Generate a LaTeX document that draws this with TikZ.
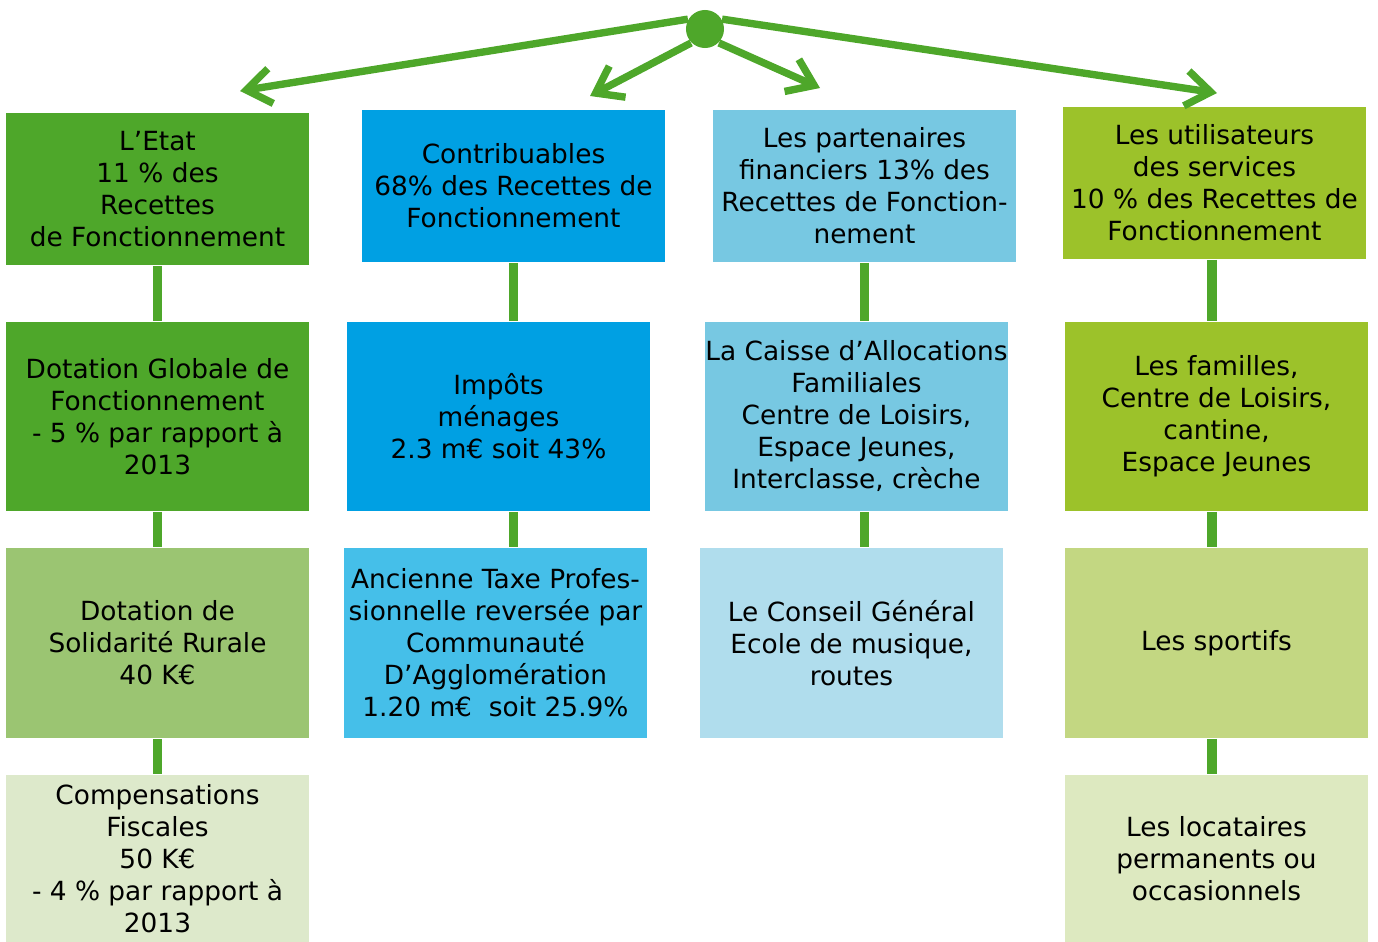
\documentclass[tikz,border=0pt]{standalone}
\usepackage{fontspec}
\setmainfont{DejaVu Sans}
\usetikzlibrary{arrows.meta}
\definecolor{gA}{RGB}{78,167,42}
\definecolor{gB}{RGB}{155,197,114}
\definecolor{gC}{RGB}{221,233,203}
\definecolor{bA}{RGB}{0,160,227}
\definecolor{bB}{RGB}{69,191,233}
\definecolor{lA}{RGB}{119,200,226}
\definecolor{lB}{RGB}{176,221,237}
\definecolor{oA}{RGB}{156,194,42}
\definecolor{oB}{RGB}{195,215,130}
\definecolor{oC}{RGB}{221,233,192}
\begin{document}
\begin{tikzpicture}[x=0.01cm,y=-0.01cm,
  box/.style={rectangle, inner sep=0pt, align=center, text=black, minimum width=3.03cm,
    font=\fontsize{7.5pt}{9.1pt}\selectfont},
  hA/.style={minimum height=1.52cm},
  hB/.style={minimum height=1.89cm},
  hC/.style={minimum height=1.90cm},
  hD/.style={minimum height=1.67cm},
  link/.style={draw=gA, line width=2.6pt},
  arr/.style={draw=gA, line width=2.1pt, -{Straight Barb[length=7pt,width=10pt]}}]
\useasboundingbox (0,0) rectangle (1378,942);
% column 1
\node[box,hA,fill=gA] (e1) at (157.5,189) {L’Etat\\11 \% des\\Recettes\\de Fonctionnement};
\node[box,hB,fill=gA] (e2) at (157.5,416.5) {Dotation Globale de\\Fonctionnement\\- 5 \% par rapport à\\2013};
\node[box,hC,fill=gB] (e3) at (157.5,643) {Dotation de\\Solidarité Rurale\\40 K€};
\node[box,hD,fill=gC] (e4) at (157.5,858.5) {Compensations\\Fiscales\\50 K€\\- 4 \% par rapport à\\2013};
% column 2
\node[box,hA,fill=bA] (c1) at (513.5,186) {Contribuables\\68\% des Recettes de\\Fonctionnement};
\node[box,hB,fill=bA] (c2) at (498.5,416.5) {Impôts\\ménages\\2.3 m€ soit 43\%};
\node[box,hC,fill=bB] (c3) at (495.5,643) {Ancienne Taxe Profes-\\sionnelle reversée par\\Communauté\\D’Agglomération\\1.20 m€ \ soit 25.9\%};
% column 3
\node[box,hA,fill=lA] (p1) at (864.5,186) {Les partenaires\\financiers 13\% des\\Recettes de Fonction-\\nement};
\node[box,hB,fill=lA] (p2) at (856.5,416.5) {La Caisse d’Allocations\\Familiales\\Centre de Loisirs,\\Espace Jeunes,\\Interclasse, crèche};
\node[box,hC,fill=lB] (p3) at (851.5,643) {Le Conseil Général\\Ecole de musique,\\routes};
% column 4
\node[box,hA,fill=oA] (u1) at (1214.5,183) {Les utilisateurs\\des services\\10 \% des Recettes de\\Fonctionnement};
\node[box,hB,fill=oA] (u2) at (1216.5,416.5) {Les familles,\\Centre de Loisirs,\\cantine,\\Espace Jeunes};
\node[box,hC,fill=oB] (u3) at (1216.5,643) {Les sportifs};
\node[box,hD,fill=oC] (u4) at (1216.5,858.5) {Les locataires\\permanents ou\\occasionnels};
% vertical links
\draw[link] (e1.south) -- (e2.north);
\draw[link] (e2.south) -- (e3.north);
\draw[link] (e3.south) -- (e4.north);
\draw[link] (c1.south) -- (c1.south |- c2.north);
\draw[link] (c1.south |- c2.south) -- (c1.south |- c3.north);
\draw[link] (p1.south) -- (p1.south |- p2.north);
\draw[link] (p1.south |- p2.south) -- (p1.south |- p3.north);
\draw[link] ([xshift=-0.025cm]u1.south) -- ([xshift=-0.025cm]u1.south |- u2.north);
\draw[link] ([xshift=-0.025cm]u1.south |- u2.south) -- ([xshift=-0.025cm]u1.south |- u3.north);
\draw[link] ([xshift=-0.025cm]u1.south |- u3.south) -- ([xshift=-0.025cm]u1.south |- u4.north);
% hub and arrows
\node[circle, fill=gA, inner sep=0pt, minimum size=0.38cm] (hub) at (705,29) {};
\coordinate (t1) at (240,91);
\coordinate (t2) at (590,96);
\coordinate (t3) at (820,88);
\coordinate (t4) at (1217,93);
\draw[arr] (hub.150) -- (t1);
\draw[arr] (hub.225) -- (t2);
\draw[arr] (hub.315) -- (t3);
\draw[arr] (hub.30) -- (t4);
\end{tikzpicture}
\end{document}
